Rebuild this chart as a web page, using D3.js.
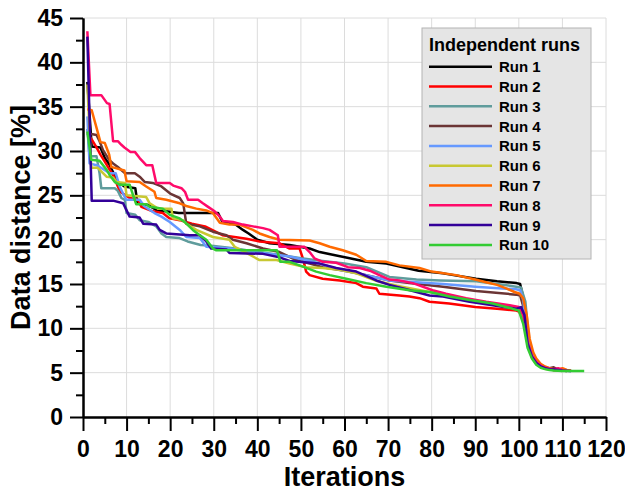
<!DOCTYPE html>
<html>
<head>
<meta charset="utf-8">
<script src="https://cdn.jsdelivr.net/npm/d3@7"></script>
<style>
  body { margin: 0; background: #fff; }
  svg { font-family: "Liberation Sans", Arial, sans-serif; font-weight: bold; }
</style>
</head>
<body>
<svg></svg>
<script>
// Series: [iteration, data distance %]
const run1 = [[1,37.8],[2,30.5],[4,30.4],[5,29.2],[6,28.5],[7,27.5],[8,26.5],[9.5,26.0],[12,25.8],[12.5,24.1],[15,23.9],[17,23.3],[19,23.2],[22,23.0],[31,23.0],[32,22.0],[35,21.7],[36.7,21.1],[38,20.7],[40,20.0],[42.8,19.6],[47.4,19.4],[52,19.0],[54.3,18.6],[57.3,18.3],[61.2,17.9],[65,17.5],[69.6,17.3],[73.4,16.9],[77,16.5],[82.6,16.2],[90.2,15.6],[95,15.3],[99.5,15.1],[100.3,15.0],[101,13.5],[102,8.6],[103,7.0],[104,6.2],[105,5.8],[106,5.55],[107,5.4],[108,5.3],[110,5.25],[111,5.2]]
const run2 = [[1,32.0],[2,31.3],[3,30.5],[4,29.6],[5,28.8],[6,28.0],[7,27.2],[8,26.0],[8.5,25.4],[10.7,24.7],[12.6,24.5],[13.4,23.7],[16,23.2],[18.3,23.0],[19.9,22.4],[22.2,22.2],[25,21.8],[28,21.5],[32,20.5],[37.5,20.1],[40.5,19.8],[45,19.6],[47.4,19.0],[49.7,19.0],[50.5,17.8],[51.2,16.4],[52,16.0],[55,15.6],[58.9,15.4],[62.7,15.1],[64.2,14.7],[67.3,14.5],[68,13.9],[72.6,13.7],[74.9,13.6],[77.2,13.4],[79.5,13.0],[84,12.8],[90,12.4],[95,12.2],[99.4,12.0],[100,11.9],[101,11.2],[102,8.4],[103,6.8],[104,6.1],[105,5.7],[106,5.5],[107,5.4],[108,5.3],[110,5.25]]
const run3 = [[1,32.5],[1.5,29.4],[3.1,29.4],[3.8,27.5],[4.2,25.8],[7.3,25.8],[8,25.5],[8.8,24.7],[9.6,24.5],[10,23.0],[12,22.8],[13,22.2],[15,22.0],[16.8,21.5],[18,20.7],[19.1,20.3],[22,20.2],[24,19.8],[27,19.4],[30,19.3],[35,19.0],[40,18.6],[45,18.3],[50,17.9],[55,17.6],[60,17.3],[65,16.9],[70.3,15.8],[76.5,15.5],[82,15.4],[90.2,15.3],[95,15.0],[99.4,14.7],[100.5,14.6],[101.5,13.0],[102.3,8.8],[103,7.3],[104,6.4],[105,5.9],[106,5.6],[107,5.45],[108,5.35],[110,5.25],[112,5.2]]
const run4 = [[1,32.0],[3.1,31.8],[3.8,31.1],[4.6,30.1],[6,29.0],[6.9,28.6],[8,28.2],[9.6,27.5],[11.9,27.5],[13,27.1],[14.2,26.5],[16,26.4],[18,26.0],[20,25.2],[22.2,24.7],[23,24.1],[23.7,21.8],[26.8,21.5],[29.8,20.9],[32.9,20.5],[34.4,20.0],[37.5,19.6],[41.3,19.0],[45.1,18.6],[48.9,17.7],[52,17.3],[55,16.9],[60,16.5],[65,16.0],[70.3,15.4],[74.9,15.1],[82.6,14.7],[90.2,14.2],[99.4,13.8],[100.3,13.7],[101,12.5],[102,8.7],[103,7.1],[104,6.3],[105,5.9],[106,5.6],[107,5.5],[108,5.6],[109,5.35],[111,5.2]]
const run5 = [[1,33.9],[1.5,28.6],[3.1,28.4],[4.5,28.0],[6.1,27.5],[7.5,27.5],[8.4,26.0],[9.9,24.5],[13,24.5],[14,23.8],[16.4,23.0],[18,22.6],[19.9,22.0],[22.2,21.1],[23.7,20.3],[26.8,20.2],[28.3,19.2],[33.6,19.0],[36,18.8],[41.3,18.5],[47.4,18.1],[52,17.6],[55,17.2],[58.9,16.6],[65,16.0],[70.3,15.4],[76.5,15.2],[82.6,15.0],[90,14.7],[99.4,14.4],[100.3,14.3],[101,13.2],[102,8.9],[103,7.2],[104,6.4],[105,5.9],[106,5.6],[107,5.45],[108,5.35],[110,5.2]]
const run6 = [[1,37.5],[1.9,28.1],[3.4,28.1],[4.6,27.5],[5.4,27.1],[6.9,27.0],[7.7,26.5],[9.6,26.4],[10,25.0],[14.5,24.8],[15.3,24.1],[17.2,23.5],[20.3,23.5],[20.6,22.4],[22.9,22.2],[23.7,21.8],[26,21.1],[29.8,20.3],[33.6,20.0],[34.8,19.2],[37.5,18.5],[40.5,17.7],[44.4,17.7],[47.4,17.3],[51.2,16.9],[55,16.8],[58.9,16.6],[62.7,16.2],[67,15.4],[72,14.8],[79.5,14.1],[84,13.7],[90,13.1],[95,12.7],[99.4,12.3],[100.3,12.2],[101,11.0],[102,8.2],[103,6.7],[104,6.0],[105,5.65],[106,5.45],[107,5.35],[108,5.3],[110,5.2]]
const run7 = [[1,34.7],[2,34.6],[3,32.8],[4,31.0],[5,30.9],[6,29.6],[6.5,28.2],[7.3,28.1],[9.5,27.8],[10,26.6],[13,26.5],[14.5,26.0],[16.4,25.4],[16.8,24.7],[19.1,24.5],[22.2,24.1],[23.7,23.8],[26,23.5],[28.3,23.3],[29.8,23.0],[31.4,21.9],[33.6,21.7],[35.9,21.7],[39,21.1],[40.5,20.7],[42.8,20.3],[45.1,20.0],[52,19.9],[54.3,19.6],[56.6,19.2],[59.6,18.8],[62.7,18.3],[65,17.6],[69.6,17.5],[72.6,17.1],[77.2,16.8],[80,16.4],[85.6,16.0],[90,15.5],[92.5,15.2],[95,14.9],[97.1,14.5],[99,14.1],[100.2,13.9],[101,13.4],[101.8,11.5],[102.5,8.8],[103.3,7.3],[104,6.6],[105,6.0],[106,5.7],[107,5.5],[108,5.4],[109,5.35],[110,5.5],[111,5.3],[112,5.25]]
const run8 = [[1,43.5],[1.7,36.3],[4.2,36.3],[5.5,35.4],[6.1,35.3],[6.9,31.1],[8,31.1],[8.8,30.7],[9.5,30.4],[10.9,29.9],[11.9,29.9],[13,29.2],[14.5,28.4],[15.9,28.4],[16.8,26.4],[19.9,26.4],[20.7,26.1],[22.6,25.8],[23.4,25.4],[24.1,24.5],[26.4,24.5],[27.5,24.1],[28.7,23.7],[30.2,23.2],[31.4,22.6],[32.1,22.1],[34.4,22.0],[36.7,21.7],[39,21.5],[41.3,21.3],[42.8,21.1],[44.7,20.5],[45.1,19.2],[50.8,19.2],[52,18.6],[53.1,17.9],[55,17.5],[58.1,17.4],[60.8,16.9],[63.5,16.8],[65.8,16.5],[68,16.0],[70.3,15.5],[72.6,15.4],[75.7,15.1],[80.2,14.3],[83.3,13.9],[87.9,13.4],[92.5,13.0],[97.9,12.6],[100,12.4],[101,11.5],[102,8.5],[103,6.9],[104,6.2],[105,5.8],[106,5.55],[107,5.45],[108,5.4],[109,5.5],[110,5.3],[111,5.2]]
const run9 = [[1,42.9],[2,24.4],[6.9,24.4],[9.2,24.1],[10,23.3],[10.7,22.6],[13,22.5],[13.8,21.8],[16.8,21.7],[17.6,21.1],[19.1,20.7],[24.5,20.5],[26.8,20.5],[28.3,19.8],[29.4,19.0],[32.9,18.9],[33.6,18.5],[41.3,18.4],[45.1,18.0],[47.4,17.6],[54.3,17.3],[58.1,16.8],[62.7,16.4],[67.3,15.4],[70.3,14.9],[74.2,14.4],[79.5,13.7],[82.6,13.6],[88.7,13.0],[94,12.6],[99.4,12.2],[100.5,12.4],[101.3,11.5],[102,8.3],[103,6.8],[104,6.1],[105,5.7],[106,5.5],[107,5.4],[108,5.35],[110,5.25],[112,5.2]]
const run10 = [[1,32.2],[1.9,29.0],[3.8,28.9],[5.4,27.9],[6.1,27.3],[7.3,26.5],[8.4,26.2],[10.7,26.2],[11.5,25.0],[12.2,24.0],[14.5,24.0],[15.3,23.7],[18.3,23.5],[19.9,22.8],[22.2,22.4],[23.3,22.0],[25.2,21.1],[26.8,20.5],[28.3,20.0],[29.8,19.0],[30.6,18.8],[44.5,18.8],[45.3,17.5],[47.4,17.5],[49.7,17.1],[53.5,16.4],[56.6,16.0],[60.4,15.6],[65,15.1],[69.6,14.7],[74.9,14.3],[79.5,14.1],[84.1,13.6],[88.7,13.2],[94,12.8],[98.6,12.2],[100,12.0],[101,10.5],[102,7.8],[103,6.6],[104,5.9],[105,5.55],[106,5.4],[107,5.3],[108,5.25],[110,5.2],[115,5.2]]

const runs = [run1, run2, run3, run4, run5, run6, run7, run8, run9, run10]
const runNames = ["Run 1", "Run 2", "Run 3", "Run 4", "Run 5", "Run 6", "Run 7", "Run 8", "Run 9", "Run 10"]
const runColors = ["#000000", "#ff0000", "#5f9c9c", "#6b3535", "#6699ff", "#c8c832", "#ff6a00", "#ff0a6a", "#330099", "#33cc33"]

const xTicks = [0, 10, 20, 30, 40, 50, 60, 70, 80, 90, 100, 110, 120]
const xMinor = [5, 15, 25, 35, 45, 55, 65, 75, 85, 95, 105, 115]
const yTicks = [0, 5, 10, 15, 20, 25, 30, 35, 40, 45]
const yMinor = [2.5, 7.5, 12.5, 17.5, 22.5, 27.5, 32.5, 37.5, 42.5]

const width = 625, height = 491
const margin = { top: 18, right: 19, bottom: 74, left: 83 }

const svg = d3.select('svg').attr('width', width).attr('height', height)

const x = d3.scaleLinear().domain([0, 120]).range([margin.left, width - margin.right])
const y = d3.scaleLinear().domain([0, 45]).range([height - margin.bottom, margin.top])

// Grid
const grid = svg.append('g').attr('stroke', '#dcdcdc').attr('stroke-width', 1)
grid.selectAll('.gx').data(xTicks.slice(1)).join('line')
    .attr('x1', d => x(d)).attr('x2', d => x(d))
    .attr('y1', y(0)).attr('y2', y(45))
grid.selectAll('.gy').data(yTicks.slice(1)).join('line')
    .attr('y1', d => y(d)).attr('y2', d => y(d))
    .attr('x1', x(0)).attr('x2', x(120))

// Lines
const line = d3.line().x(d => x(d[0])).y(d => y(d[1]))
svg.append('g').selectAll('path').data(runs).join('path')
    .attr('d', line)
    .attr('fill', 'none')
    .attr('stroke', (_, i) => runColors[i])
    .attr('stroke-width', 2.5)
    .attr('stroke-linejoin', 'round')

// Axes
const styleAxis = g => {
    g.select('.domain').attr('stroke-width', 2)
    g.selectAll('.tick line').attr('stroke-width', 2)
    g.selectAll('.tick text').attr('font-size', 23).attr('font-weight', 'bold')
        .attr('font-family', '"Liberation Sans", Arial, sans-serif').attr('fill', '#000')
}
svg.append('g').attr('transform', `translate(0,${y(0)})`)
    .call(d3.axisBottom(x).tickValues(xMinor).tickSize(7).tickFormat('').tickSizeOuter(0))
    .call(styleAxis)
svg.append('g').attr('transform', `translate(0,${y(0)})`)
    .call(d3.axisBottom(x).tickValues(xTicks).tickSize(14).tickPadding(10).tickSizeOuter(0))
    .call(styleAxis)
svg.append('g').attr('transform', `translate(${x(0)},0)`)
    .call(d3.axisLeft(y).tickValues(yMinor).tickSize(7).tickFormat('').tickSizeOuter(0))
    .call(styleAxis)
svg.append('g').attr('transform', `translate(${x(0)},0)`)
    .call(d3.axisLeft(y).tickValues(yTicks).tickSize(13).tickPadding(7).tickSizeOuter(0))
    .call(styleAxis)

// Axis titles
svg.append('text').attr('x', (x(0) + x(120)) / 2).attr('y', 486)
    .attr('text-anchor', 'middle').attr('font-size', 27).text('Iterations')
svg.append('text').attr('transform', `translate(30,${(y(0) + y(45)) / 2}) rotate(-90)`)
    .attr('text-anchor', 'middle').attr('font-size', 27).text('Data distance [%]')

// Legend
const legend = svg.append('g').attr('transform', 'translate(422,28)')
legend.append('rect').attr('width', 169).attr('height', 231)
    .attr('fill', '#e5e5e5').attr('stroke', '#b4b4b4').attr('stroke-width', 1)
legend.append('text').attr('x', 7).attr('y', 23).attr('font-size', 18).text('Independent runs')
const rows = legend.selectAll('.row').data(runNames).join('g')
    .attr('transform', (_, i) => `translate(0,${38.7 + i * 19.8})`)
rows.append('line').attr('x1', 7).attr('x2', 70)
    .attr('stroke', (_, i) => runColors[i]).attr('stroke-width', 2.5)
rows.append('text').attr('x', 77).attr('y', 5.5).attr('font-size', 15).text(d => d)
</script>
</body>
</html>
